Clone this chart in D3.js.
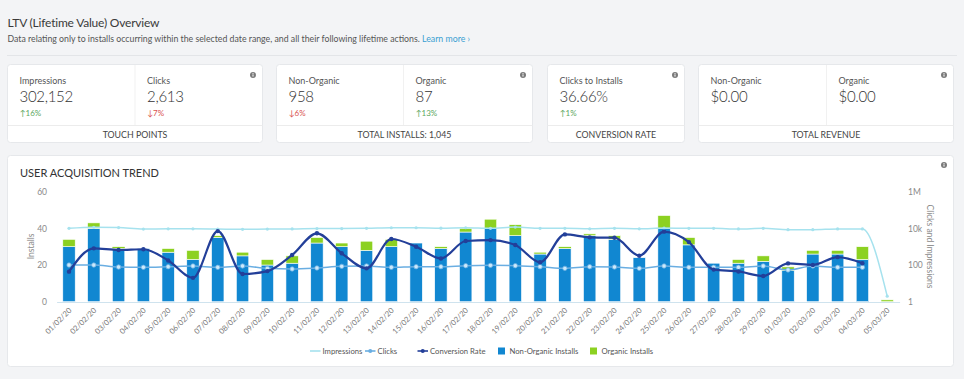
<!DOCTYPE html>
<html>
<head>
<meta charset="utf-8">
<script src="https://cdn.jsdelivr.net/npm/d3@7"></script>
<style>
  html, body { margin: 0; padding: 0; background: #f3f4f6; }
  svg { display: block; font-family: Lato, "Open Sans", sans-serif; }
</style>
</head>
<body>
<svg id="page" width="964" height="379"></svg>
<script>
// chart data
var dates = ["01/02/20", "02/02/20", "03/02/20", "04/02/20", "05/02/20", "06/02/20", "07/02/20",
  "08/02/20", "09/02/20", "10/02/20", "11/02/20", "12/02/20", "13/02/20", "14/02/20", "15/02/20",
  "16/02/20", "17/02/20", "18/02/20", "19/02/20", "20/02/20", "21/02/20", "22/02/20", "23/02/20",
  "24/02/20", "25/02/20", "26/02/20", "27/02/20", "28/02/20", "29/02/20", "01/03/20", "02/03/20",
  "03/03/20", "04/03/20", "05/03/20"];

var nonOrganic = [30, 40, 29, 29, 27, 23, 35, 25, 20, 21, 32, 30, 28, 30, 32, 29, 38,
  40, 36, 26, 29, 36, 34, 24, 40, 31, 21, 21, 22, 17, 26, 26, 23, 0];
var organic = [4, 3, 1, 0, 2, 5, 1, 2, 3, 4, 3, 2, 5, 4, 0, 1, 2,
  5, 6, 1, 1, 1, 2, 0, 7, 4, 0, 2, 3, 2, 2, 2, 7, 1];

var impressions = [10000, 11500, 11000, 9200, 9500, 9500, 9200, 8900, 9200, 9300, 9800, 9800,
  10000, 10800, 10800, 10300, 10800, 10000, 11800, 10000, 10000, 9500, 10000, 9500, 10500,
  10000, 10000, 9300, 10000, 8500, 8500, 9300, 9300, 2];
var clicks = [100, 100, 78, 75, 81, 89, 75, 89, 66, 61, 69, 85, 89, 75, 81, 81, 92,
  96, 92, 81, 66, 81, 78, 66, 89, 75, 75, 75, 89, 54, 89, 75, 75, null];
var conversionRate = [16.4, 29.1, 28.2, 28.6, 22.5, 13, 38.5, 15.1, 16.7, 25.5, 37.3, 26.4,
  18.2, 34.2, 30, 23.6, 33.1, 33.6, 30.9, 21.5, 36.7, 35.1, 34.9, 25.1, 38.2, 32.5, 17.5,
  16.5, 14, 20.9, 20, 24.3, 21, null];

var leftTicks = [0, 20, 40, 60];
var rightTicks = [1, 100, 10000, 1000000];
var rightTickLabels = ["1", "100", "10k", "1M"];

var kpiCards = [
  { left: 7.5, right: 262.5, split: 135, footer: "TOUCH POINTS",
    cells: [["Impressions", "302,152", "16%", true], ["Clicks", "2,613", "7%", false]] },
  { left: 276.5, right: 532.5, split: 403.5, footer: "TOTAL INSTALLS: 1,045",
    cells: [["Non-Organic", "958", "6%", false], ["Organic", "87", "13%", true]] },
  { left: 547.5, right: 684.5, split: null, footer: "CONVERSION RATE",
    cells: [["Clicks to Installs", "36.66%", "1%", true]] },
  { left: 698.5, right: 953.5, split: 826.5, footer: "TOTAL REVENUE",
    cells: [["Non-Organic", "$0.00", null, null], ["Organic", "$0.00", null, null]] }
];

var blue = "#1187d1", green = "#8cd121", navy = "#233f99",
  clickColor = "#6aaee2", impColor = "#a6e2ee";

var svg = d3.select("#page");

svg.append("rect").attr("width", 964).attr("height", 379).attr("fill", "#f3f4f6");

// header
svg.append("text").attr("x", 7.5).attr("y", 26.5)
  .attr("font-size", 12).attr("letter-spacing", -0.2).attr("fill", "#3a3a3a")
  .text("LTV (Lifetime Value) Overview");

var sub = svg.append("text").attr("x", 7.5).attr("y", 41.5)
  .attr("font-size", 8.75).attr("fill", "#555");
sub.append("tspan").text("Data relating only to installs occurring within the selected date range, and all their following lifetime actions. ");
sub.append("tspan").attr("fill", "#3a9fd2").text("Learn more \u203A");

svg.append("line").attr("x1", 7).attr("x2", 957).attr("y1", 55.5).attr("y2", 55.5)
  .attr("stroke", "#e3e5e8");

function infoIcon(cx, cy) {
  svg.append("circle").attr("cx", cx).attr("cy", cy).attr("r", 3)
    .attr("fill", "#7a7a7a");
  svg.append("rect").attr("x", cx - 0.5).attr("y", cy - 0.6).attr("width", 1).attr("height", 2.2)
    .attr("fill", "#fff");
  svg.append("rect").attr("x", cx - 0.5).attr("y", cy - 2).attr("width", 1).attr("height", 0.9)
    .attr("fill", "#fff");
}

// KPI cards
kpiCards.forEach(function (c) {
  svg.append("rect").attr("x", c.left).attr("y", 64.5)
    .attr("width", c.right - c.left).attr("height", 78)
    .attr("rx", 3).attr("fill", "#fff").attr("stroke", "#e6e8eb");
  svg.append("line").attr("x1", c.left).attr("x2", c.right)
    .attr("y1", 125.5).attr("y2", 125.5).attr("stroke", "#ececec");
  if (c.split) {
    svg.append("line").attr("x1", c.split).attr("x2", c.split)
      .attr("y1", 65).attr("y2", 125).attr("stroke", "#f1f1f1");
  }
  var starts = [c.left + 12, (c.split || c.left) + 12];
  c.cells.forEach(function (cell, i) {
    var x = starts[i];
    svg.append("text").attr("x", x).attr("y", 84).attr("font-size", 9)
      .attr("fill", "#555").text(cell[0]);
    svg.append("text").attr("x", x).attr("y", 101.5).attr("font-size", 15)
      .attr("letter-spacing", -0.3).attr("font-weight", 300)
      .attr("fill", "#333").text(cell[1]);
    if (cell[2]) {
      svg.append("text").attr("x", x).attr("y", 115.5).attr("font-size", 8)
        .attr("fill", cell[3] ? "#5da760" : "#d9534f")
        .text((cell[3] ? "\u2191" : "\u2193") + cell[2]);
    }
  });
  svg.append("text").attr("x", (c.left + c.right) / 2).attr("y", 137.5)
    .attr("text-anchor", "middle").attr("font-size", 8.8).attr("fill", "#444")
    .text(c.footer);
  infoIcon(c.right - 9.5, 75);
});

// chart panel
svg.append("rect").attr("x", 7.5).attr("y", 155.5).attr("width", 946).attr("height", 211)
  .attr("rx", 3).attr("fill", "#fff").attr("stroke", "#e6e8eb");
svg.append("text").attr("x", 20).attr("y", 177.3).attr("font-size", 11)
  .attr("fill", "#333").text("USER ACQUISITION TREND");
infoIcon(944, 165);

var x = d3.scaleBand().domain(dates).range([56.6, 899.6])
  .paddingInner(0.5).paddingOuter(0.25);
var yL = d3.scaleLinear().domain([0, 60]).range([301.7, 191.7]);
var yR = d3.scaleLog().domain([1, 1e6]).range([301.7, 191.7]);

// axes
var gL = svg.append("g").attr("transform", "translate(50,0)")
  .call(d3.axisLeft(yL).tickValues(leftTicks).tickSize(0).tickPadding(3));
var gR = svg.append("g").attr("transform", "translate(905,0)")
  .call(d3.axisRight(yR).tickValues(rightTicks).tickSize(0).tickPadding(3)
    .tickFormat(function (d, i) { return rightTickLabels[i]; }));
[gL, gR].forEach(function (g) {
  g.select(".domain").remove();
  g.selectAll("text").attr("font-size", 8.5).attr("fill", "#8a8a8a")
    .attr("font-family", "Lato, sans-serif");
});

svg.append("text").attr("transform", "translate(34,246.5) rotate(-90)")
  .attr("text-anchor", "middle").attr("font-size", 8.5).attr("fill", "#8a8a8a").text("Installs");
svg.append("text").attr("transform", "translate(927,246.5) rotate(90)")
  .attr("text-anchor", "middle").attr("font-size", 8.5).attr("fill", "#8a8a8a")
  .text("Clicks and Impressions");

var gX = svg.append("g").attr("transform", "translate(0,302)")
  .call(d3.axisBottom(x).tickSize(0).tickPadding(0));
gX.select(".domain").attr("stroke", "#cfe3ee");
gX.selectAll("text")
  .attr("font-size", 7.6).attr("fill", "#777").attr("font-family", "Lato, sans-serif")
  .attr("text-anchor", "end").attr("dy", null)
  .attr("transform", "translate(3,9) rotate(-45)");

// stacked bars
var rows = dates.map(function (d, i) { return { date: d, non: nonOrganic[i], org: organic[i] }; });
var stack = d3.stack().keys(["non", "org"])(rows);
var colors = [blue, green];
stack.forEach(function (layer, k) {
  svg.append("g").selectAll("rect").data(layer).enter().append("rect")
    .attr("x", function (d) { return x(d.data.date); })
    .attr("width", x.bandwidth())
    .attr("y", function (d) { return yL(d[1]); })
    .attr("height", function (d) { return yL(d[0]) - yL(d[1]); })
    .attr("fill", colors[k])
    .attr("stroke", "#fff").attr("stroke-width", 0.6);
});

function cx(i) { return x(dates[i]) + x.bandwidth() / 2; }

function drawLine(values, scale, color, width, r, markFill) {
  var line = d3.line()
    .defined(function (d) { return d != null; })
    .x(function (d, i) { return cx(i); })
    .y(function (d) { return scale(d); })
    .curve(d3.curveMonotoneX);
  svg.append("path").datum(values).attr("d", line)
    .attr("fill", "none").attr("stroke", color).attr("stroke-width", width);
  var pts = values.map(function (v, i) { return { v: v, i: i }; })
    .filter(function (p) { return p.v != null; });
  svg.append("g").selectAll("circle").data(pts).enter().append("circle")
    .attr("cx", function (p) { return cx(p.i); })
    .attr("cy", function (p) { return scale(p.v); })
    .attr("r", r).attr("fill", markFill || color)
    .attr("stroke", color).attr("stroke-width", markFill ? 0.8 : 0);
}

drawLine(impressions, yR, impColor, 1.5, 1.6);
drawLine(clicks, yR, clickColor, 1.5, 2.2, "#cbe9fb");
drawLine(conversionRate, yL, navy, 2.2, 2.2);

// legend
var legendY = 351;
var legendItems = [
  { kind: "line", color: impColor, marker: false, x: 310, label: "Impressions" },
  { kind: "line", color: clickColor, marker: true, x: 365, label: "Clicks" },
  { kind: "line", color: navy, marker: true, x: 417.5, label: "Conversion Rate" },
  { kind: "box", color: blue, x: 498, label: "Non-Organic Installs" },
  { kind: "box", color: green, x: 590, label: "Organic Installs" }
];
var lg = svg.append("g").selectAll("g").data(legendItems).enter().append("g")
  .attr("transform", function (d) { return "translate(" + d.x + "," + legendY + ")"; });
lg.each(function (d) {
  var g = d3.select(this);
  if (d.kind === "line") {
    g.append("line").attr("x1", 0).attr("x2", 10.5).attr("stroke", d.color).attr("stroke-width", 1.6);
    if (d.marker) g.append("circle").attr("cx", 5.25).attr("r", 2).attr("fill", d.color);
    g.append("text").attr("x", 12.5).attr("y", 3).attr("font-size", 7.7).attr("fill", "#555").text(d.label);
  } else {
    g.append("rect").attr("x", 0).attr("y", -3.5).attr("width", 7).attr("height", 7).attr("fill", d.color);
    g.append("text").attr("x", 11.5).attr("y", 3).attr("font-size", 7.7).attr("fill", "#555").text(d.label);
  }
});
</script>
</body>
</html>
